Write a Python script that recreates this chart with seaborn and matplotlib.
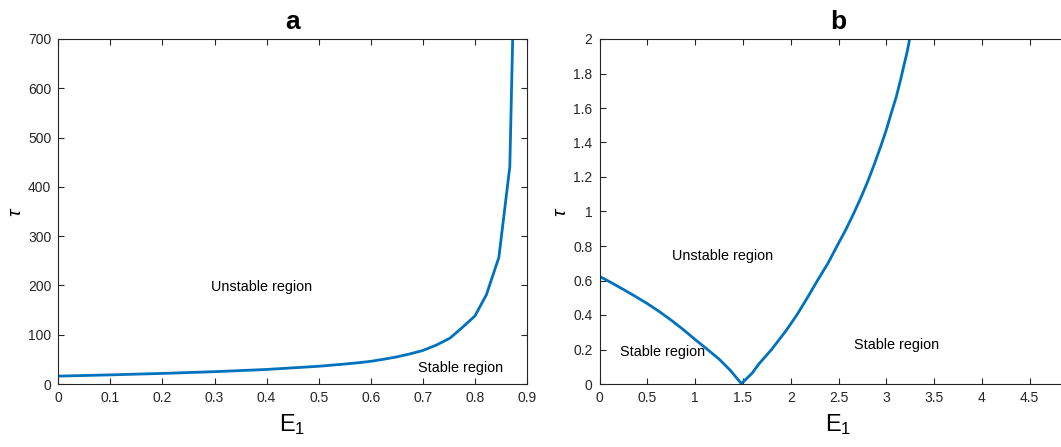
import numpy as np
import pandas as pd
import seaborn as sns
import matplotlib.pyplot as plt
from matplotlib.ticker import FormatStrFormatter, MultipleLocator

# panel a: stability boundary, tau vs E1
e1_a = [0, 0.1, 0.2, 0.3, 0.4, 0.5, 0.55, 0.575, 0.6, 0.625, 0.65, 0.675, 0.7,
        0.726, 0.752, 0.774, 0.8, 0.822, 0.846, 0.867, 0.8725]
tau_a = [16, 18.5, 21.5, 25, 29.5, 36, 40.5, 43, 46, 50.3, 55, 61, 68,
         79, 93, 113, 138, 181, 257, 441, 700]

# panel b
e1_b = [0, 0.125, 0.25, 0.375, 0.5, 0.625, 0.75, 0.875, 1.0, 1.125, 1.25,
        1.37, 1.48, 1.5, 1.6, 1.67, 1.8, 1.954, 2.07, 2.18, 2.28, 2.389,
        2.48, 2.574, 2.66, 2.738, 2.81, 2.878, 2.94, 3.0, 3.05, 3.105, 3.15,
        3.19, 3.22, 3.244]
tau_b = [0.624, 0.587, 0.548, 0.508, 0.466, 0.42, 0.37, 0.316, 0.258, 0.202,
         0.145, 0.078, 0.005, 0.01, 0.065, 0.118, 0.2, 0.311, 0.405, 0.505,
         0.6, 0.699, 0.795, 0.892, 0.99, 1.085, 1.18, 1.279, 1.375, 1.473,
         1.567, 1.666, 1.765, 1.86, 1.93, 2.0]

xticks_b = [0, 0.5, 1, 1.5, 2, 2.5, 3, 3.5, 4, 4.5]

df_a = pd.DataFrame({'E1': e1_a, 'tau': tau_a})
df_b = pd.DataFrame({'E1': e1_b, 'tau': tau_b})

sns.set_theme(style='ticks')
plt.rcParams['font.family'] = ['Liberation Sans', 'DejaVu Sans']
plt.rcParams['mathtext.fontset'] = 'custom'
plt.rcParams['mathtext.rm'] = 'Liberation Sans'
plt.rcParams['mathtext.it'] = 'Liberation Sans:italic'

axis_col = '#262626'
line_col = '#0072BD'

W, H = 1061, 447
fig = plt.figure(figsize=(W / 100, H / 100), dpi=100)
ax1 = fig.add_axes([58.3 / W, 1 - 384 / H, (527 - 58.3) / W, 345 / H])
ax2 = fig.add_axes([599.5 / W, 1 - 384 / H, 478 / W, 345 / H])

sns.lineplot(data=df_a, x='E1', y='tau', ax=ax1, color=line_col, lw=2.0,
             estimator=None, sort=False)
sns.lineplot(data=df_b, x='E1', y='tau', ax=ax2, color=line_col, lw=2.0,
             estimator=None, sort=False)

ax1.set_xlim(0, 0.9)
ax1.set_ylim(0, 700)
ax1.xaxis.set_major_locator(MultipleLocator(0.1))
ax1.yaxis.set_major_locator(MultipleLocator(100))
ax2.set_xlim(0, 5)
ax2.set_ylim(0, 2)
ax2.set_xticks(xticks_b)
ax2.yaxis.set_major_locator(MultipleLocator(0.2))

for ax, title in [(ax1, 'a'), (ax2, 'b')]:
    ax.xaxis.set_major_formatter(FormatStrFormatter('%g'))
    ax.yaxis.set_major_formatter(FormatStrFormatter('%g'))
    ax.tick_params(direction='in', top=True, right=True, length=4.5,
                   width=0.8, colors=axis_col, labelsize=10, pad=5)
    for s in ax.spines.values():
        s.set_color(axis_col)
        s.set_linewidth(0.8)
    ax.set_xlabel(r'$\mathregular{E_1}$', fontsize=17, color='black', labelpad=5)
    ax.set_ylabel(r'$\tau$', fontsize=14, color='black', labelpad=2)
    ax.set_title(title, fontsize=19, fontweight='bold', pad=7, color='black')

ax1.text(0.293, 197, 'Unstable region', fontsize=10.4, va='center', color='black')
ax1.text(0.69, 32, 'Stable region', fontsize=10.4, va='center', color='black')
ax2.text(0.76, 0.742, 'Unstable region', fontsize=10.4, va='center', color='black')
ax2.text(0.214, 0.186, 'Stable region', fontsize=10.4, va='center', color='black')
ax2.text(2.66, 0.226, 'Stable region', fontsize=10.4, va='center', color='black')

fig.savefig('out.png', dpi=100)
